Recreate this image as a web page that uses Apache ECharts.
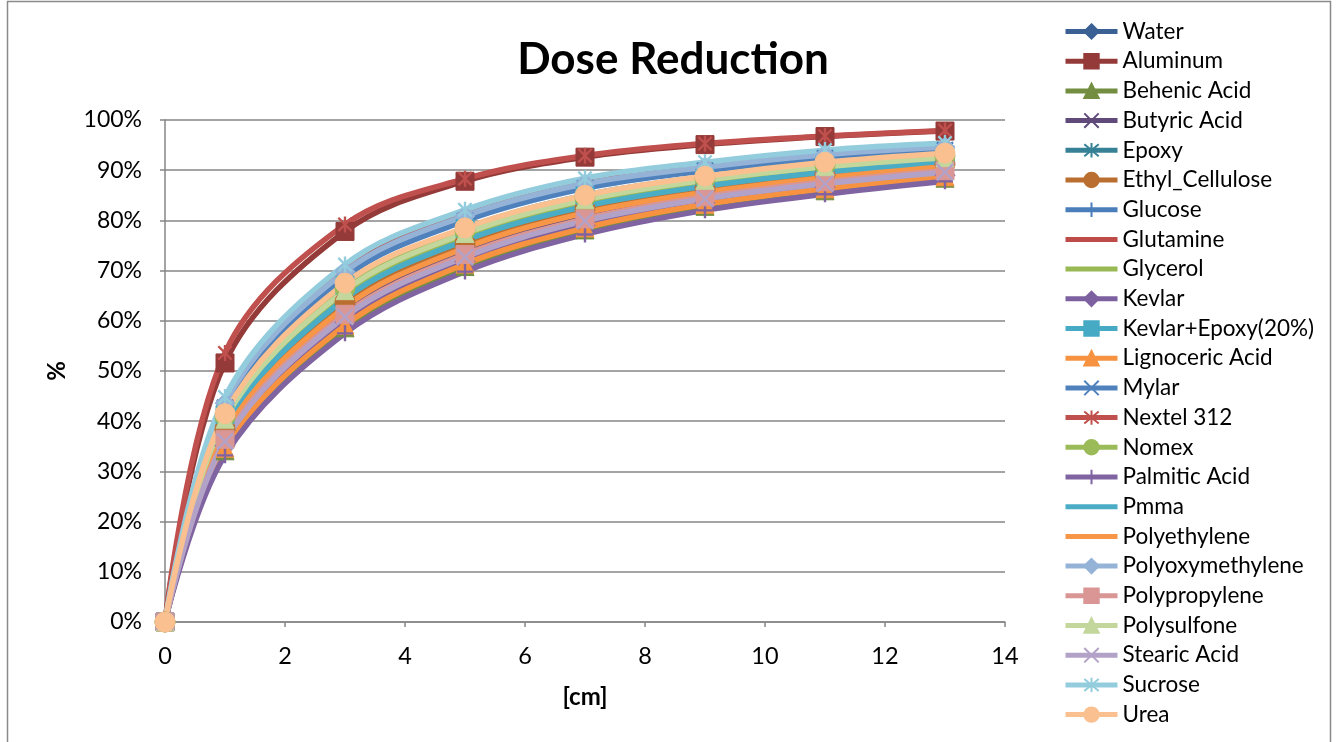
<!DOCTYPE html>
<html>
<head>
<meta charset="utf-8">
<script src="https://cdn.jsdelivr.net/npm/echarts/dist/echarts.min.js"></script>
<style>
  html, body { margin: 0; padding: 0; background: #ffffff; }
  #chart { width: 1338px; height: 742px; }
</style>
</head>
<body>
<div id="chart"></div>
<script>
// Shield thickness in cm
const thickness = [0, 1, 3, 5, 7, 9, 11, 13];

// Dose reduction (%) for each material at the thicknesses above
const water          = [0, 38.1, 63.3, 75.0, 81.9, 86.0, 88.9, 91.0];
const aluminum       = [0, 51.6, 77.8, 87.8, 92.6, 95.1, 96.7, 97.8];
const behenicAcid    = [0, 34.1, 58.6, 70.8, 78.1, 82.8, 85.9, 88.4];
const butyricAcid    = [0, 37.1, 62.2, 74.0, 81.0, 85.3, 88.2, 90.4];
const epoxy          = [0, 39.5, 64.9, 76.4, 83.2, 87.2, 90.0, 91.9];
const ethylCellulose = [0, 38.5, 63.8, 75.5, 82.4, 86.4, 89.2, 91.3];
const glucose        = [0, 43.2, 69.3, 80.4, 86.8, 90.3, 92.8, 94.3];
const glutamine      = [0, 44.1, 70.4, 81.4, 87.7, 91.0, 93.5, 94.9];
const glycerol       = [0, 39.9, 65.4, 76.9, 83.7, 87.6, 90.3, 92.2];
const kevlar         = [0, 35.1, 59.7, 71.8, 79.0, 83.5, 86.6, 89.0];
const kevlarEpoxy    = [0, 41.3, 67.1, 78.4, 85.0, 88.7, 91.4, 93.1];
const lignocericAcid = [0, 34.6, 59.1, 71.3, 78.5, 83.2, 86.3, 88.7];
const mylar          = [0, 42.7, 68.7, 79.9, 86.4, 89.9, 92.4, 94.0];
const nextel312      = [0, 53.6, 79.2, 88.3, 92.9, 95.3, 96.8, 97.9];
const nomex          = [0, 40.9, 66.5, 77.9, 84.6, 88.3, 91.0, 92.8];
const palmiticAcid   = [0, 33.2, 57.5, 69.8, 77.2, 82.0, 85.2, 87.8];
const pmma           = [0, 39.0, 64.4, 76.0, 82.8, 86.8, 89.6, 91.6];
const polyethylene   = [0, 37.6, 62.7, 74.5, 81.5, 85.6, 88.5, 90.7];
const polyoxymethylene = [0, 43.6, 69.8, 80.9, 87.3, 90.6, 93.1, 94.6];
const polypropylene  = [0, 36.4, 61.3, 73.2, 80.3, 84.7, 87.7, 89.9];
const polysulfone    = [0, 40.4, 66.0, 77.4, 84.1, 88.0, 90.7, 92.5];
const stearicAcid    = [0, 36.0, 60.8, 72.7, 79.9, 84.3, 87.3, 89.6];
const sucrose        = [0, 44.8, 71.2, 82.1, 88.4, 91.6, 94.0, 95.4];
const urea           = [0, 41.5, 67.5, 78.5, 85.0, 88.8, 91.6, 93.4];

// Axis tick labels
const xTicks = [0, 2, 4, 6, 8, 10, 12, 14];
const yTicks = [0, 10, 20, 30, 40, 50, 60, 70, 80, 90, 100];

// Marker shapes
const M_DIAMOND = 'diamond';
const M_SQUARE = 'rect';
const M_TRIANGLE = 'triangle';
const M_CROSS = 'path://M0,0L10,10M10,0L0,10';
const M_STAR = 'path://M0,0L10,10M10,0L0,10M5,-1L5,11';
const M_CIRCLE = 'circle';
const M_PLUS = 'path://M5,0L5,10M0,5L10,5';
// short dash marker in a square box, so it stays a thin bar hidden inside the line stroke
const M_DASH = 'path://M0,0L0.01,0M0,4.6L10,4.6L10,5.4L0,5.4ZM9.99,10L10,10';

const materials = [
  ['Water', water, '#3A6094', M_DIAMOND],
  ['Aluminum', aluminum, '#943A38', M_SQUARE],
  ['Behenic Acid', behenicAcid, '#738E40', M_TRIANGLE],
  ['Butyric Acid', butyricAcid, '#5F4A7A', M_CROSS],
  ['Epoxy', epoxy, '#368196', M_STAR],
  ['Ethyl_Cellulose', ethylCellulose, '#BA6F30', M_CIRCLE],
  ['Glucose', glucose, '#4A7EBB', M_PLUS],
  ['Glutamine', glutamine, '#BE4B48', M_DASH],
  ['Glycerol', glycerol, '#98B954', M_DASH],
  ['Kevlar', kevlar, '#7D60A0', M_DIAMOND],
  ['Kevlar+Epoxy(20%)', kevlarEpoxy, '#46AAC5', M_SQUARE],
  ['Lignoceric Acid', lignocericAcid, '#F69240', M_TRIANGLE],
  ['Mylar', mylar, '#4F81BD', M_CROSS],
  ['Nextel 312', nextel312, '#C0504D', M_STAR],
  ['Nomex', nomex, '#9BBB59', M_CIRCLE],
  ['Palmitic Acid', palmiticAcid, '#8064A2', M_PLUS],
  ['Pmma', pmma, '#4BACC6', M_DASH],
  ['Polyethylene', polyethylene, '#F79646', M_DASH],
  ['Polyoxymethylene', polyoxymethylene, '#95B3D7', M_DIAMOND],
  ['Polypropylene', polypropylene, '#D99694', M_SQUARE],
  ['Polysulfone', polysulfone, '#C3D69B', M_TRIANGLE],
  ['Stearic Acid', stearicAcid, '#B3A2C7', M_CROSS],
  ['Sucrose', sucrose, '#93CDDD', M_STAR],
  ['Urea', urea, '#FAC090', M_CIRCLE]
];

const FONT = 'Lato, "Open Sans", sans-serif';
const AXIS_GRAY = '#868686';

function markerSize(shape) {
  if (shape === M_CIRCLE) return 20;
  if (shape === M_TRIANGLE) return 18;
  if (shape === M_DIAMOND) return 20;
  if (shape === M_SQUARE) return 18;
  return 16;
}

function markerBorder(shape) {
  if (shape === M_DASH) return 0;
  if (shape.indexOf('path://') === 0) return 2.4;
  return 1;
}

const series = materials.map(([name, values, color, shape]) => ({
  name: name,
  type: 'line',
  smooth: 0.35,
  data: thickness.map((x, i) => [x, values[i]]),
  symbol: shape,
  symbolSize: markerSize(shape),
  symbolKeepAspect: true,
  showSymbol: shape !== M_DASH,
  color: color,
  lineStyle: { color: color, width: 5.5 },
  itemStyle: { color: color, borderColor: color, borderWidth: markerBorder(shape) },
  emphasis: { disabled: true },
  animation: false
}));

const chart = echarts.init(document.getElementById('chart'), null, { renderer: 'canvas' });

chart.setOption({
  backgroundColor: '#ffffff',
  animation: false,
  textStyle: { fontFamily: FONT },
  title: {
    text: 'Dose Reduction',
    left: 668,
    textAlign: 'center',
    top: 33,
    textStyle: { fontFamily: FONT, fontSize: 44, fontWeight: 'bold', color: '#000000' }
  },
  graphic: [{
    type: 'rect',
    shape: { x: 7.5, y: 1.5, width: 1323, height: 800 },
    style: { fill: 'none', stroke: '#8a8a8a', lineWidth: 1.5 },
    silent: true,
    z: -1
  }],
  legend: {
    orient: 'vertical',
    left: 1063,
    top: 20,
    bottom: 0,
    padding: 0,
    itemWidth: 52,
    itemHeight: 18,
    itemGap: 6.7,
    lineStyle: { width: 5 },
    textStyle: { fontFamily: FONT, fontSize: 22.5, lineHeight: 22, color: '#000000' },
    data: materials.map(m => m[0])
  },
  grid: { left: 165, top: 120, width: 840, height: 502, containLabel: false },
  xAxis: {
    type: 'value',
    min: xTicks[0],
    max: xTicks[xTicks.length - 1],
    interval: xTicks[1] - xTicks[0],
    name: '[cm]',
    nameLocation: 'middle',
    nameGap: 63,
    nameTextStyle: { fontFamily: FONT, fontSize: 24, fontWeight: 'bold', color: '#000000' },
    axisLine: { show: true, onZero: false, lineStyle: { color: AXIS_GRAY, width: 1.5 } },
    axisTick: { show: true, inside: false, length: 5, lineStyle: { color: AXIS_GRAY, width: 1.5 } },
    axisLabel: { fontFamily: FONT, fontSize: 23.5, color: '#000000', margin: 22 },
    splitLine: { show: false }
  },
  yAxis: {
    type: 'value',
    min: yTicks[0],
    max: yTicks[yTicks.length - 1],
    interval: yTicks[1] - yTicks[0],
    name: '%',
    nameLocation: 'middle',
    nameRotate: 90,
    nameGap: 96,
    nameTextStyle: { fontFamily: FONT, fontSize: 24, fontWeight: 'bold', color: '#000000' },
    axisLine: { show: true, lineStyle: { color: AXIS_GRAY, width: 1.5 } },
    axisTick: { show: true, inside: false, length: 5, lineStyle: { color: AXIS_GRAY, width: 1.5 } },
    axisLabel: { fontFamily: FONT, fontSize: 23, color: '#000000', margin: 23, formatter: '{value}%' },
    splitLine: { show: true, lineStyle: { color: AXIS_GRAY, width: 1.5 } }
  },
  series: series
});
</script>
</body>
</html>
